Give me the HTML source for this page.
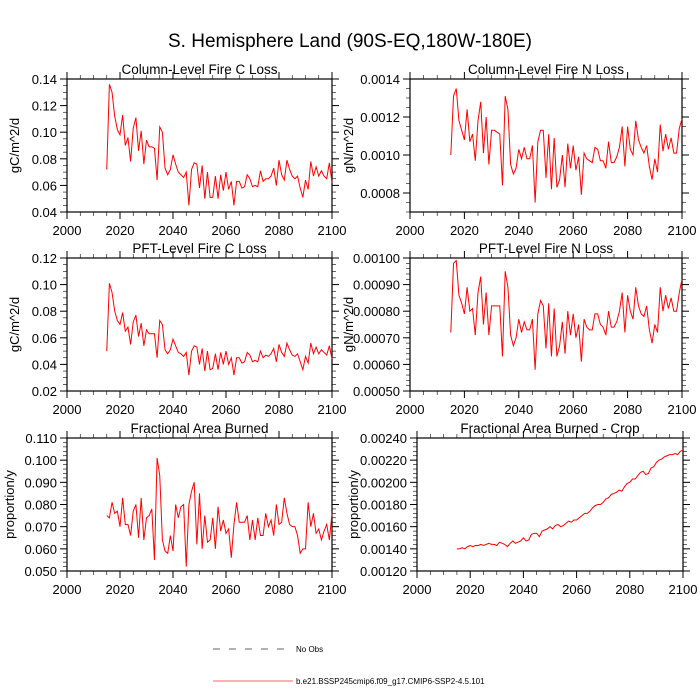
<!DOCTYPE html>
<html><head><meta charset="utf-8"><style>
body{margin:0;background:#fff;}
svg{display:block;font-family:"Liberation Sans",sans-serif;}
</style></head><body>
<svg id="chart" width="700" height="700" viewBox="0 0 700 700">
<rect width="700" height="700" fill="#fff"/>
<text x="350" y="47" font-size="19" text-anchor="middle">S. Hemisphere Land (90S-EQ,180W-180E)</text>
<g id="panels"></g>
<g>
<line x1="213" y1="649" x2="287" y2="649" stroke="#333" stroke-width="0.8" stroke-dasharray="7,9"/>
<text x="296" y="652" font-size="8">No Obs</text>
<line x1="213" y1="681" x2="293" y2="681" stroke="#ff3030" stroke-width="0.8"/>
<text x="296" y="684" font-size="8">b.e21.BSSP245cmip6.f09_g17.CMIP6-SSP2-4.5.101</text>
</g>
</svg>
<script>
const years=[];for(let y=2015;y<=2100;y++)years.push(y);
const xTicks=[2000,2020,2040,2060,2080,2100];
const colCLoss=[0.072,0.136,0.130,0.112,0.102,0.098,0.113,0.090,0.096,0.078,0.103,0.111,0.086,0.101,0.076,0.094,0.089,0.089,0.088,0.064,0.104,0.100,0.073,0.068,0.072,0.083,0.076,0.070,0.068,0.066,0.070,0.045,0.072,0.077,0.076,0.058,0.075,0.050,0.070,0.051,0.051,0.067,0.050,0.068,0.056,0.070,0.057,0.063,0.045,0.063,0.063,0.058,0.059,0.068,0.065,0.059,0.060,0.059,0.071,0.063,0.065,0.065,0.067,0.073,0.060,0.079,0.068,0.064,0.079,0.072,0.067,0.065,0.067,0.058,0.051,0.064,0.057,0.078,0.067,0.074,0.067,0.071,0.067,0.065,0.077,0.062];
const colNLoss=[0.00100,0.00131,0.00135,0.00118,0.00113,0.00108,0.00124,0.00107,0.00111,0.00097,0.00118,0.00128,0.00101,0.00120,0.00095,0.00113,0.00113,0.00112,0.00111,0.00084,0.00131,0.00124,0.00095,0.00090,0.00093,0.00103,0.00098,0.00104,0.00098,0.00098,0.00105,0.00075,0.00107,0.00113,0.00113,0.00088,0.00111,0.00082,0.00109,0.00083,0.00087,0.00100,0.00083,0.00106,0.00093,0.00105,0.00092,0.00099,0.00079,0.00101,0.00098,0.00097,0.00096,0.00104,0.00103,0.00097,0.00097,0.00093,0.00107,0.00096,0.00096,0.00099,0.00104,0.00115,0.00094,0.00115,0.00103,0.00100,0.00118,0.00108,0.00104,0.00101,0.00105,0.00094,0.00087,0.00098,0.00091,0.00116,0.00102,0.00111,0.00103,0.00109,0.00101,0.00101,0.00114,0.00119];
const pftCLoss=[0.050,0.101,0.094,0.080,0.073,0.070,0.079,0.065,0.068,0.055,0.072,0.077,0.061,0.071,0.054,0.066,0.063,0.063,0.063,0.045,0.073,0.070,0.051,0.048,0.051,0.059,0.054,0.049,0.048,0.046,0.049,0.032,0.050,0.054,0.053,0.040,0.052,0.035,0.050,0.036,0.037,0.048,0.036,0.049,0.040,0.050,0.040,0.045,0.032,0.045,0.045,0.041,0.042,0.049,0.047,0.042,0.043,0.042,0.050,0.045,0.047,0.046,0.048,0.052,0.042,0.055,0.049,0.046,0.056,0.051,0.047,0.046,0.048,0.042,0.036,0.046,0.041,0.056,0.048,0.053,0.048,0.051,0.049,0.047,0.054,0.044];
const pftNLoss=[0.00072,0.00098,0.00099,0.00086,0.00083,0.00079,0.00089,0.00080,0.00081,0.00071,0.00087,0.00093,0.00075,0.00087,0.00071,0.00082,0.00082,0.00082,0.00082,0.00063,0.00095,0.00089,0.00071,0.00067,0.00070,0.00077,0.00072,0.00076,0.00073,0.00073,0.00077,0.00058,0.00079,0.00084,0.00082,0.00066,0.00083,0.00063,0.00081,0.00063,0.00067,0.00076,0.00064,0.00080,0.00071,0.00079,0.00070,0.00075,0.00061,0.00077,0.00074,0.00073,0.00073,0.00079,0.00079,0.00075,0.00074,0.00071,0.00080,0.00074,0.00074,0.00076,0.00080,0.00087,0.00072,0.00086,0.00080,0.00077,0.00089,0.00082,0.00079,0.00078,0.00082,0.00073,0.00068,0.00075,0.00072,0.00089,0.00080,0.00086,0.00081,0.00085,0.00080,0.00080,0.00087,0.00092];
const fracBurned=[0.075,0.074,0.081,0.076,0.077,0.070,0.083,0.071,0.071,0.066,0.077,0.080,0.065,0.083,0.064,0.074,0.075,0.078,0.055,0.101,0.093,0.064,0.059,0.058,0.066,0.059,0.080,0.074,0.079,0.080,0.052,0.080,0.086,0.090,0.062,0.085,0.060,0.075,0.063,0.064,0.074,0.060,0.079,0.068,0.073,0.067,0.069,0.056,0.071,0.081,0.072,0.072,0.072,0.075,0.064,0.073,0.064,0.074,0.066,0.066,0.076,0.070,0.073,0.066,0.080,0.071,0.072,0.083,0.076,0.071,0.070,0.070,0.066,0.058,0.060,0.060,0.081,0.070,0.076,0.067,0.069,0.064,0.068,0.071,0.064,0.076];
const fracCrop=[0.00140,0.00140,0.00141,0.00140,0.00142,0.00143,0.00142,0.00143,0.00143,0.00144,0.00143,0.00144,0.00145,0.00144,0.00144,0.00143,0.00146,0.00145,0.00144,0.00142,0.00145,0.00147,0.00145,0.00146,0.00147,0.00150,0.00147,0.00148,0.00153,0.00154,0.00154,0.00151,0.00156,0.00157,0.00158,0.00160,0.00158,0.00161,0.00162,0.00160,0.00161,0.00163,0.00165,0.00164,0.00166,0.00166,0.00168,0.00170,0.00172,0.00172,0.00174,0.00177,0.00179,0.00180,0.00180,0.00182,0.00185,0.00186,0.00189,0.00190,0.00191,0.00193,0.00192,0.00196,0.00199,0.00200,0.00203,0.00203,0.00206,0.00209,0.00210,0.00207,0.00208,0.00213,0.00214,0.00218,0.00220,0.00221,0.00223,0.00224,0.00225,0.00225,0.00226,0.00225,0.00228,0.00229];
const yTicks1=[0.04,0.06,0.08,0.10,0.12,0.14];
const yTicks2=[0.0008,0.0010,0.0012,0.0014];
const yTicks3=[0.02,0.04,0.06,0.08,0.10,0.12];
const yTicks4=[0.0005,0.0006,0.0007,0.0008,0.0009,0.0010];
const yTicks5=[0.05,0.06,0.07,0.08,0.09,0.10,0.11];
const yTicks6=[0.0012,0.0014,0.0016,0.0018,0.0020,0.0022,0.0024];

const NS="http://www.w3.org/2000/svg";
const root=document.getElementById('panels');
function mk(tag,attrs,parent){const e=document.createElementNS(NS,tag);for(const k in attrs)e.setAttribute(k,attrs[k]);(parent||root).appendChild(e);return e;}
const panels=[
 {name:'column-c-loss',title:'Column-Level Fire C Loss',x0:67,x1:332,y0:79,y1:212,ymin:0.04,ymax:0.14,minor:0.005,ticks:yTicks1,dec:2,data:colCLoss,ylab:'gC/m^2/d',ylx:15},
 {name:'column-n-loss',title:'Column-Level Fire N Loss',x0:410,x1:682,y0:79,y1:212,ymin:0.0007,ymax:0.0014,minor:0.00005,ticks:yTicks2,dec:4,data:colNLoss,ylab:'gN/m^2/d',ylx:349},
 {name:'pft-c-loss',title:'PFT-Level Fire C Loss',x0:67,x1:332,y0:258,y1:391,ymin:0.02,ymax:0.12,minor:0.005,ticks:yTicks3,dec:2,data:pftCLoss,ylab:'gC/m^2/d',ylx:15},
 {name:'pft-n-loss',title:'PFT-Level Fire N Loss',x0:410,x1:682,y0:258,y1:391,ymin:0.0005,ymax:0.0010,minor:0.00002,ticks:yTicks4,dec:5,data:pftNLoss,ylab:'gN/m^2/d',ylx:349},
 {name:'frac-area-burned',title:'Fractional Area Burned',x0:67,x1:332,y0:438,y1:571,ymin:0.05,ymax:0.11,minor:0.002,ticks:yTicks5,dec:3,data:fracBurned,ylab:'proportion/y',ylx:10},
 {name:'frac-area-burned-crop',title:'Fractional Area Burned - Crop',x0:417,x1:683,y0:438,y1:571,ymin:0.0012,ymax:0.0024,minor:0.00004,ticks:yTicks6,dec:5,data:fracCrop,ylab:'proportion/y',ylx:354}
];
panels.forEach(p=>{
 const g=mk('g',{});
 
 
 const xs=v=>p.x0+(v-2000)/100*(p.x1-p.x0);
 const ys=v=>p.y1-(v-p.ymin)/(p.ymax-p.ymin)*(p.y1-p.y0);
 const t=mk('text',{x:(p.x0+p.x1)/2,y:p.y0-5,'font-size':13.5,'text-anchor':'middle'},g);t.textContent=p.title;
 
 
 const nMin=Math.round((p.ymax-p.ymin)/p.minor);
 for(let i=0;i<=nMin;i++){const y=p.y1-i/nMin*(p.y1-p.y0);
  mk('line',{x1:p.x0-4,x2:p.x0,y1:y,y2:y,stroke:'#000','stroke-width':0.6},g);
  mk('line',{x1:p.x1,x2:p.x1+4,y1:y,y2:y,stroke:'#000','stroke-width':0.6},g);}
 p.ticks.forEach(v=>{const y=ys(v);
  mk('line',{x1:p.x0-7,x2:p.x0,y1:y,y2:y,stroke:'#000','stroke-width':1},g);
  mk('line',{x1:p.x1,x2:p.x1+7,y1:y,y2:y,stroke:'#000','stroke-width':1},g);
  const l=mk('text',{x:p.x0-10,y:y+5,'font-size':13,'text-anchor':'end'},g);l.textContent=v.toFixed(p.dec);
  
  });
 for(let yr=2000;yr<=2100;yr+=5){const x=xs(yr);const maj=yr%20===0;const L=maj?7:4;
  mk('line',{x1:x,x2:x,y1:p.y1,y2:p.y1+L,stroke:'#000','stroke-width':maj?1:0.6},g);
  mk('line',{x1:x,x2:x,y1:p.y0-L,y2:p.y0,stroke:'#000','stroke-width':maj?1:0.6},g);}
 xTicks.forEach(v=>{const l=mk('text',{x:xs(v),y:p.y1+23,'font-size':13,'text-anchor':'middle'},g);l.textContent=v;
  
  });
 const fr=mk('rect',{x:p.x0,y:p.y0,width:p.x1-p.x0,height:p.y1-p.y0,fill:'none',stroke:'#000','stroke-width':1.2},g);
 
 
 const yl=mk('text',{x:0,y:0,'font-size':13,'text-anchor':'middle',transform:`translate(${p.ylx+4},${(p.y0+p.y1)/2}) rotate(-90)`},g);yl.textContent=p.ylab;
 
 
 const pts=p.data.map((v,i)=>xs(years[i]).toFixed(2)+','+ys(v).toFixed(2)).join(' ');
 const line=mk('polyline',{points:pts,fill:'none',stroke:'#ff0000','stroke-width':1},g);
 
 
});
</script>
</body></html>
